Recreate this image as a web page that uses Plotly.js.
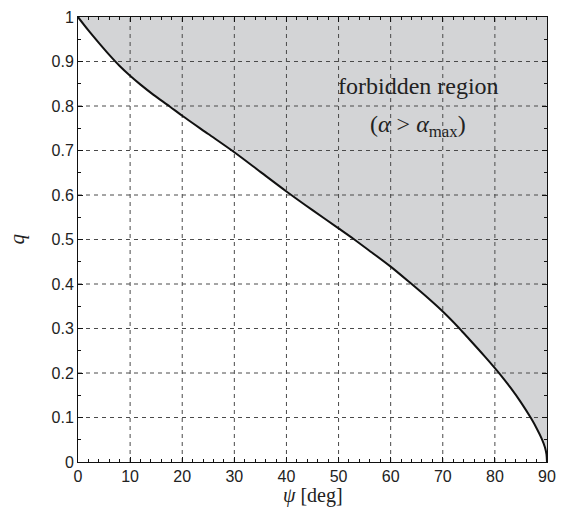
<!DOCTYPE html>
<html>
<head>
<meta charset="utf-8">
<script src="https://cdn.plot.ly/plotly-3.0.1.min.js"></script>
<style>
  html, body { margin: 0; padding: 0; background: #fff; }
  #chart { width: 565px; height: 507px; }
</style>
</head>
<body>
<div id="chart"></div>
<script>
// Boundary curve q(psi) separating the allowed and forbidden regions
const psi = [0, 2, 4, 6, 8, 10, 12, 14.5, 17.6, 20, 25, 30, 35, 40, 45, 50, 52.9, 55.8, 60, 63.8, 67, 70, 73.2, 75, 78, 80, 81, 83, 85, 87, 88, 89, 89.6, 89.9, 90];
const q   = [1, 0.97, 0.942, 0.915, 0.89, 0.868, 0.848, 0.825, 0.799, 0.778, 0.737, 0.696, 0.652, 0.608, 0.566, 0.525, 0.501, 0.476, 0.439, 0.402, 0.37, 0.338, 0.3, 0.277, 0.238, 0.211, 0.197, 0.167, 0.134, 0.097, 0.076, 0.052, 0.033, 0.017, 0];

const xTicks = [0, 10, 20, 30, 40, 50, 60, 70, 80, 90];
const yTicks = [0, 0.1, 0.2, 0.3, 0.4, 0.5, 0.6, 0.7, 0.8, 0.9, 1];

const xRange = [0, 90];
const yRange = [0, 1];

// Forbidden region: area above the curve up to q = 1
const fillX = psi.concat([xRange[1], xRange[0]]);
const fillY = q.concat([yRange[1], yRange[1]]);

const traces = [
  {
    x: fillX, y: fillY, type: 'scatter', mode: 'lines',
    fill: 'toself', fillcolor: '#d3d4d6',
    line: { width: 0, color: 'rgba(0,0,0,0)', shape: 'spline', smoothing: 0.8 },
    hoverinfo: 'skip', showlegend: false
  }
];

// Dashed grid drawn above the shaded area
const gx = [], gy = [];
xTicks.slice(1, -1).forEach(v => { gx.push(v, v, null); gy.push(yRange[0], yRange[1], null); });
yTicks.slice(1, -1).forEach(v => { gx.push(xRange[0], xRange[1], null); gy.push(v, v, null); });
traces.push({
  x: gx, y: gy, type: 'scatter', mode: 'lines',
  line: { color: '#4a4a4a', width: 1, dash: '4px,4px' },
  hoverinfo: 'skip', showlegend: false
});

traces.push({
  x: psi, y: q, type: 'scatter', mode: 'lines',
  line: { color: '#111', width: 2, shape: 'spline', smoothing: 0.8 },
  hoverinfo: 'skip', showlegend: false
});

const tickFont = { family: 'Liberation Sans', size: 16, color: '#222' };
const serif = 'Liberation Serif';

const axisCommon = {
  showgrid: false, zeroline: false,
  showline: true, linecolor: '#111', linewidth: 1, mirror: 'allticks',
  ticks: 'inside', ticklen: 5, tickcolor: '#111', tickwidth: 1,
  tickfont: tickFont, layer: 'above traces', fixedrange: true
};

const layout = {
  width: 565, height: 507,
  margin: { l: 78, r: 18, t: 17, b: 45 },
  paper_bgcolor: '#fff', plot_bgcolor: '#fff',
  showlegend: false,
  xaxis: Object.assign({}, axisCommon, {
    range: xRange, tickvals: xTicks, ticktext: xTicks.map(String),
    minor: { ticks: 'inside', dtick: 2, ticklen: 3, tickcolor: '#111', showgrid: false }
  }),
  yaxis: Object.assign({}, axisCommon, {
    range: yRange, tickvals: yTicks, ticktext: yTicks.map(String),
    minor: { ticks: 'inside', dtick: 0.05, ticklen: 3, tickcolor: '#111', showgrid: false }
  }),
  annotations: [
    {
      text: 'forbidden region', x: 65.3, y: 0.845, xref: 'x', yref: 'y',
      showarrow: false, font: { family: serif, size: 24, color: '#222' }
    },
    {
      text: '(<i>α</i> > <i>α</i><sub>max</sub>)', x: 65.3, y: 0.755, xref: 'x', yref: 'y',
      showarrow: false, font: { family: serif, size: 24, color: '#222' }
    },
    {
      text: '<i>ψ</i> [deg]', x: 0.5, y: 0, xref: 'paper', yref: 'paper',
      yanchor: 'middle', yshift: -33, showarrow: false,
      font: { family: serif, size: 20, color: '#222' }
    },
    {
      text: '<i>q</i>', x: 0, y: 0.5, xref: 'paper', yref: 'paper',
      xanchor: 'right', xshift: -48, textangle: -90, showarrow: false,
      font: { family: serif, size: 21, color: '#222' }
    }
  ]
};

Plotly.newPlot('chart', traces, layout, { staticPlot: true, displayModeBar: false });
</script>
</body>
</html>
